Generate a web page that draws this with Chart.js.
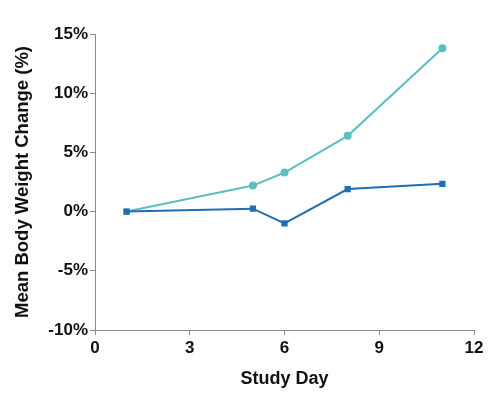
<!DOCTYPE html>
<html><head><meta charset="utf-8">
<script src="https://cdn.jsdelivr.net/npm/chart.js@4"></script>
<style>html,body{margin:0;padding:0;background:#fff}#w{width:500px;height:400px}</style>
</head><body><div id="w"><canvas id="c"></canvas></div>
<script>
const days = [1, 5, 6, 8, 11];
const seriesTeal = [0, 2.2, 3.3, 6.4, 13.8];
const seriesBlue = [0, 0.25, -1.0, 1.9, 2.35];
const xTicks = [0, 3, 6, 9, 12];
const yTicks = [-10, -5, 0, 5, 10, 15];

const pts = (ys) => days.map((d, i) => ({x: d, y: ys[i]}));
const axisColor = '#8a8a8a';
const font = {family: 'Liberation Sans, Arial, sans-serif', weight: 'bold'};

new Chart(document.getElementById('c'), {
  type: 'scatter',
  data: {datasets: [
    {data: pts(seriesBlue), showLine: true, borderColor: '#1f6db3', backgroundColor: '#1f6db3',
     borderWidth: 2, pointStyle: 'rect', pointRadius: 3, pointHoverRadius: 3},
    {data: pts(seriesTeal), showLine: true, borderColor: '#5bbfc0', backgroundColor: '#5bbfc0',
     borderWidth: 2, pointStyle: ['rect','circle','circle','circle','circle'], pointRadius: 3, pointHoverRadius: 3}
  ]},
  options: {
    responsive: true, maintainAspectRatio: false, animation: false,
    layout: {padding: {left: 8, right: 26, top: 34, bottom: 6}},
    plugins: {legend: {display: false}, tooltip: {enabled: false}},
    scales: {
      x: {
        type: 'linear', min: 0, max: 12,
        afterBuildTicks: (a) => { a.ticks = xTicks.map(v => ({value: v})); },
        afterFit: (a) => { a.height = 64; },
        grid: {drawOnChartArea: false, color: axisColor, tickLength: 5},
        border: {color: axisColor, width: 1},
        ticks: {color: '#111', font: {...font, size: 17}, padding: 3},
        title: {display: true, text: 'Study Day', color: '#111', font: {...font, size: 18}, padding: {top: 14}}
      },
      y: {
        type: 'linear', min: -10, max: 15,
        afterBuildTicks: (a) => { a.ticks = yTicks.map(v => ({value: v})); },
        afterFit: (a) => { a.width = 87; },
        grid: {drawOnChartArea: false, color: axisColor, tickLength: 5},
        border: {color: axisColor, width: 1},
        ticks: {color: '#111', font: {...font, size: 17}, padding: 2, callback: v => v + '%'},
        title: {display: true, text: 'Mean Body Weight Change (%)', color: '#111', font: {...font, size: 18.5}, padding: {bottom: 8}}
      }
    }
  }
});
</script></body></html>
